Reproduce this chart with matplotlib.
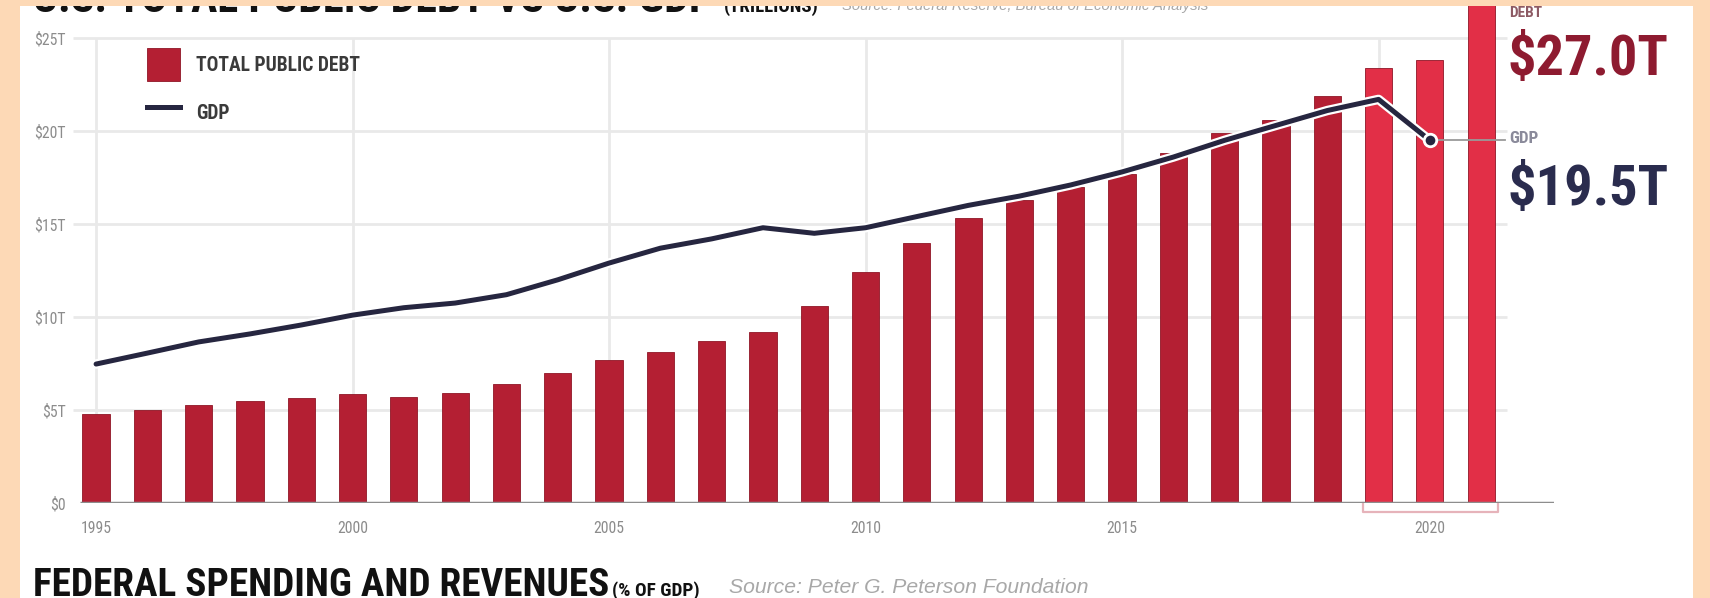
import numpy as np
import matplotlib.pyplot as plt
import matplotlib.patheffects as pe
from matplotlib import font_manager as fm
from matplotlib.patches import Rectangle, Patch
from matplotlib.lines import Line2D

W, H = 1710, 598
PEACH = '#fdd9b6'

# Datos (billones de USD)
categories = [str(y) for y in range(1995, 2020)] + ['2020 Q1', '2020 Q2', '2020 Q3']
debt = [4.8, 5.0, 5.27, 5.48, 5.65, 5.86, 5.7, 5.9, 6.4, 7.0, 7.7, 8.1, 8.7, 9.2,
        10.6, 12.4, 14.0, 15.3, 16.3, 17.0, 17.7, 18.8, 19.9, 20.6, 21.9,
        23.4, 23.8, 27.0]
gdp = [7.47, 8.06, 8.66, 9.09, 9.57, 10.1, 10.5, 10.75, 11.2, 12.0, 12.9, 13.7, 14.2, 14.8,
       14.5, 14.8, 15.4, 16.0, 16.5, 17.1, 17.8, 18.6, 19.5, 20.3, 21.1,
       21.7, 19.5, np.nan]
ytick_vals = [0, 5, 10, 15, 20, 25]
ytick_labels = ['$0', '$5T', '$10T', '$15T', '$20T', '$25T']
xtick_cats = ['1995', '2000', '2005', '2010', '2015', '2020 Q2']
xtick_labels = ['1995', '2000', '2005', '2010', '2015', '2020']
grid_cats = ['1995', '2000', '2005', '2010', '2015', '2020 Q1']
highlight = ['2020 Q1', '2020 Q2', '2020 Q3']


def pick_condensed():
    # busca una fuente estrecha instalada; si no hay, Liberation Sans
    for fam in ['Roboto Condensed', 'Open Sans Condensed', 'Liberation Sans Narrow',
                'Noto Sans', 'Open Sans', 'DejaVu Sans', 'Roboto']:
        try:
            path = fm.findfont(fm.FontProperties(family=fam, weight='bold', stretch='condensed'),
                               fallback_to_default=False)
        except ValueError:
            continue
        if 'cond' in path.lower() or 'narrow' in path.lower():
            return fam
    return 'Liberation Sans'


COND = pick_condensed()
BASE = dict(family=COND, fontstretch='condensed')
ITAL = dict(family='Liberation Sans', style='italic')


def fx(px):
    return px / W


def fy(py):
    return 1 - py / H


fig = plt.figure(figsize=(W / 100, H / 100), dpi=100, facecolor=PEACH)
renderer = fig.canvas.get_renderer()


def size_for(s, width_px, **kw):
    t = fig.text(0, 0, s, fontsize=10, **kw)
    w = t.get_window_extent(renderer=renderer).width
    t.remove()
    return 10 * width_px / w


def put(px, py, s, width_px, **kw):
    return fig.text(fx(px), fy(py), s, fontsize=size_for(s, width_px, **kw), **kw)


fig.add_artist(Rectangle((fx(20), 0), fx(1693) - fx(20), fy(6), transform=fig.transFigure,
                         facecolor='white', edgecolor='none', zorder=-5))

# eje: x=0 en 96px, 51.3px por barra; y=0 en 503px, 18.6px por billon
ax = fig.add_axes([fx(73), fy(503), fx(1554) - fx(73), 503 / H], zorder=1)
ax.set_facecolor('none')
ax.set_xlim(-0.45, 28.42)
ax.set_ylim(0, 503 / 18.6)
for s in ax.spines.values():
    s.set_visible(False)

x = np.arange(len(categories))
grid_x = [categories.index(c) for c in grid_cats]
ax.hlines(ytick_vals[1:], -0.45, 27.5, color='#e9e9e9', lw=2, zorder=0)
ax.vlines(grid_x, 0, 25, color='#e9e9e9', lw=2, zorder=0)

colors = ['#e22f47' if c in highlight else '#b41f33' for c in categories]
ax.bar(x, debt, width=0.53, color=colors, edgecolor='#8f1626', linewidth=0.6, zorder=2)
ax.hlines(0, -0.31, 28.42, color='#8d8d8d', lw=2.5, zorder=3)

ax.plot(x, gdp, color='#262640', lw=3.6, zorder=4, solid_capstyle='round',
        path_effects=[pe.Stroke(linewidth=6.8, foreground='white'), pe.Normal()])
i_last = categories.index('2020 Q2')
ax.plot([x[i_last] + 0.15, 27.46], [gdp[i_last]] * 2, color='#9a9a9a', lw=1.3, zorder=4)
ax.plot(x[i_last], gdp[i_last], 'o', ms=9, mfc='#262640', mec='white', mew=2, zorder=5)

# corchete bajo las barras de 2020
i0, i1 = categories.index(highlight[0]), categories.index(highlight[-1])
ax.plot([i0 - 0.3, i0 - 0.3, i1 + 0.33, i1 + 0.33], [0, -0.5, -0.5, 0],
        color='#e6b3ba', lw=1.6, clip_on=False, zorder=1)

tick_size = size_for('1995', 31, **BASE)
ax.set_yticks(ytick_vals, ytick_labels)
ax.set_xticks([categories.index(c) for c in xtick_cats], xtick_labels)
ax.tick_params(axis='y', length=0, pad=5, labelsize=tick_size, labelcolor='#8c8c8c')
ax.tick_params(axis='x', length=0, pad=13, labelsize=tick_size, labelcolor='#8c8c8c')
for lab in ax.get_xticklabels() + ax.get_yticklabels():
    lab.set_family(COND)
    lab.set_stretch('condensed')

leg_size = size_for('TOTAL PUBLIC DEBT', 164, weight='bold', **BASE)
leg_px = leg_size * 100 / 72
box_h = (33 - 0.245 * leg_px) / 0.65
handles = [Patch(facecolor='#b41f33', edgecolor='#8f1626', lw=0.6),
           Line2D([], [], color='#262640', lw=3.6)]
ax.legend(handles, ['TOTAL PUBLIC DEBT', 'GDP'], loc='upper left',
          bbox_to_anchor=(fx(147), fy(48)), bbox_transform=fig.transFigure,
          frameon=False, borderpad=0, borderaxespad=0, handlelength=33 / leg_px,
          handleheight=box_h / leg_px, handletextpad=16 / leg_px, labelspacing=15 / leg_px,
          prop=fm.FontProperties(family=COND, stretch='condensed', weight='bold', size=leg_size),
          labelcolor='#3a3a3a')

# anotaciones de la derecha
put(1509, 17, 'DEBT', 33, weight='bold', color='#8d5a64', va='baseline', **BASE)
put(1507, 60, '$27.0T', 162, weight='bold', color='#8e1b30', va='center', **BASE)
put(1509, 143, 'GDP', 29, weight='bold', color='#8a8a9a', va='baseline', **BASE)
put(1507, 190, '$19.5T', 162, weight='bold', color='#2a2c4e', va='center', **BASE)

# titulo superior (cortado) y titulo inferior
put(33, 12, 'U.S. TOTAL PUBLIC DEBT VS U.S. GDP', 680, weight='bold', color='#111111',
    va='baseline', **BASE)
put(724, 12, '(TRILLIONS)', 94, weight='bold', color='#111111', va='baseline', **BASE)
put(842, 10, 'Source: Federal Reserve, Bureau of Economic Analysis', 368, color='#a8a8a8',
    va='baseline', **ITAL)
fig.add_artist(Rectangle((0, fy(6)), 1, 6 / H, transform=fig.transFigure,
                         facecolor=PEACH, edgecolor='none', zorder=10))

put(33, 596, 'FEDERAL SPENDING AND REVENUES', 572, weight='bold', color='#111111',
    va='baseline', **BASE)
put(612, 596, '(% OF GDP)', 87, weight='bold', color='#111111', va='baseline', **BASE)
put(729, 593, 'Source: Peter G. Peterson Foundation', 361, color='#a8a8a8', va='baseline', **ITAL)

fig.savefig('out.png', dpi=100, facecolor=PEACH)
